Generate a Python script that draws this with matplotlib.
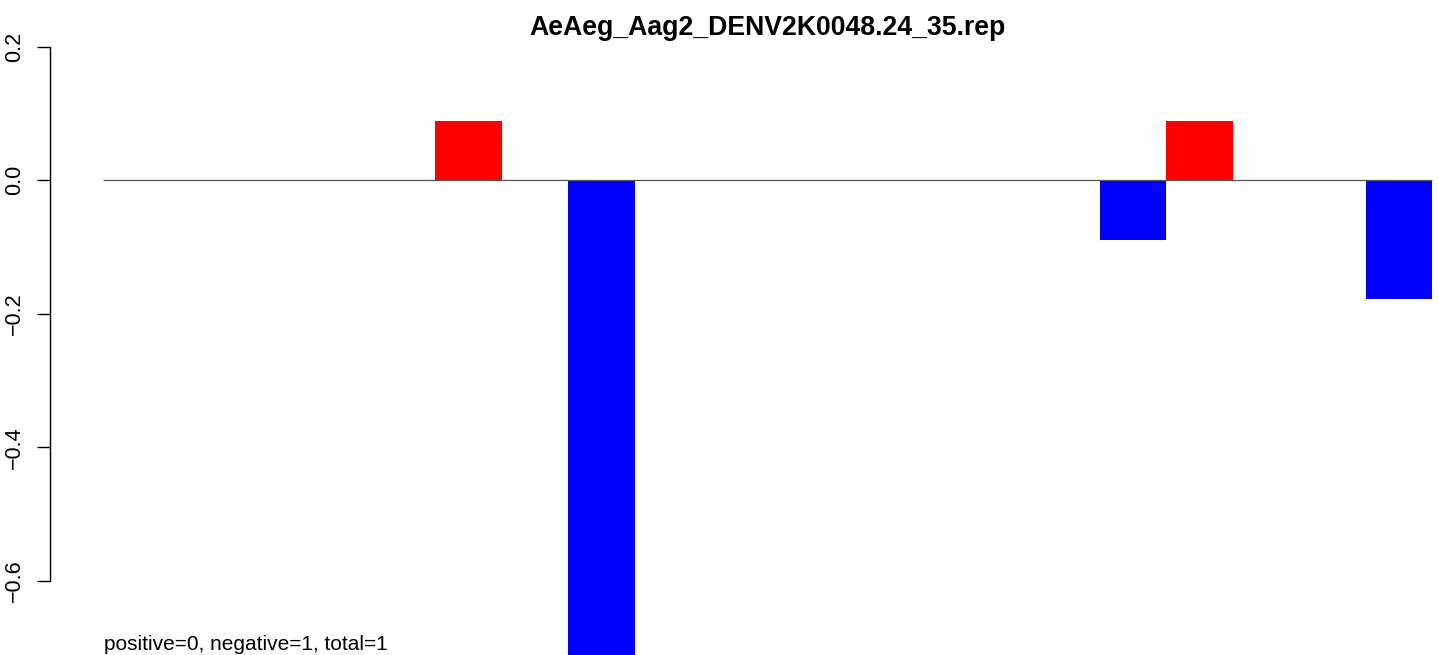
import numpy as np
import matplotlib.pyplot as plt

plt.rcParams["font.family"] = ["Liberation Sans", "DejaVu Sans"]

# 20 positions along the sequence; red = positive strand, blue = negative strand
positions = list(range(20))
pos_values = [0, 0, 0, 0, 0, 0.089, 0, 0, 0, 0, 0, 0, 0, 0, 0, 0, 0.089, 0, 0, 0]
neg_values = [0, 0, 0, 0, 0, 0, 0, -0.80, 0, 0, 0, 0, 0, 0, 0, -0.089, 0, 0, 0, -0.178]
y_ticks = [0.2, 0.0, -0.2, -0.4, -0.6]
title = "AeAeg_Aag2_DENV2K0048.24_35.rep"
note = "positive=0, negative=1, total=1"

W, H = 1439, 655
fig = plt.figure(figsize=(W / 100, H / 100), dpi=100)

# plot region in pixels (R style: bars 0..20 plus 4% padding, region runs off the right edge)
px_per_bar = (1432 - 103) / 20.0
left_px = 103 - 0.8 * px_per_bar
right_px = 1432 + 0.8 * px_per_bar
top_px, zero_px = 20, 180.3
px_per_unit = (581 - 47) / 0.8
ax = fig.add_axes([left_px / W, 0, (right_px - left_px) / W, (H - top_px) / H])
ax.set_xlim(-0.8, 20.8)
ax.set_ylim(-(H - zero_px) / px_per_unit, (zero_px - top_px) / px_per_unit)

x = np.array(positions) + 0.5
ax.bar(x, pos_values, width=1.0, color="#ff0000", linewidth=0)
ax.bar(x, neg_values, width=1.0, color="#0000ff", linewidth=0)
ax.hlines(0, 0, 20, color="#555555", linewidth=0.9, zorder=3)

for s in ["top", "right", "bottom"]:
    ax.spines[s].set_visible(False)
ax.spines["left"].set_bounds(-0.6, 0.2)
ax.spines["left"].set_linewidth(1.0)
ax.set_xticks([])
ax.set_yticks(y_ticks)
ax.set_yticklabels([f"{v:.1f}".replace("-", "\u2212") for v in y_ticks],
                   rotation=90, va="center", fontsize=15.5)
ax.tick_params(axis="y", length=9.5, width=1.0, pad=8.5)

fig.text(767 / W, 1 - 28 / H, title, ha="center", va="center",
         fontsize=19.2, fontweight="bold")
fig.text(104 / W, 1 - 654 / H, note, ha="left", va="bottom", fontsize=15)

fig.savefig("out.png", dpi=100)
